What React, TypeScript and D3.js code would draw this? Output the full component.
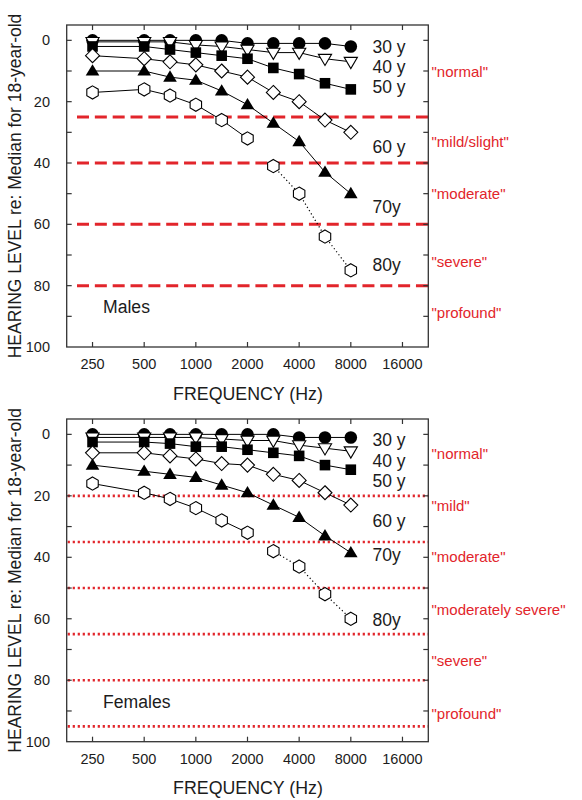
import React from "react";
import * as d3 from "d3";

const freqs = [250, 500, 750, 1000, 1500, 2000, 3000, 4000, 6000, 8000];
const xTickFreqs = [250, 500, 1000, 2000, 4000, 8000, 16000];
const yTickValues = [0, 20, 40, 60, 80, 100];
const yMinorTicks = [0, 10, 20, 30, 40, 50, 60, 70, 80, 90];
const ages = ["30 y", "40 y", "50 y", "60 y", "70y", "80y"];

// Males
const m30 = [0, 0, 0, 0, 0, 1, 1, 1, 1, 2];
const m40 = [0.5, 0.5, 0.5, 1.5, 2, 3, 4, 4, 6, 7];
const m50 = [2, 2, 3, 4, 5, 6, 9, 11, 14, 16];
const m60 = [5, 6, 7, 8, 10, 12, 17, 20, 26, 30];
const m70 = [10, 10, 12, 13, 16.5, 21, 27, 33, 43, 50];
const m80 = [17, 16, 18, 21, 26, 32, 41, 50, 64, 75];
const maleBorders = [25, 40, 60, 80];
const maleCategories = ['"normal"', '"mild/slight"', '"moderate"', '"severe"', '"profound"'];
const maleCategoryAt = [10.3, 33, 49.9, 72.2, 88.9];
const maleAgeAt = [2.1, 8.6, 15.1, 34.7, 54.3, 73.3];

// Females
const f30 = [0, 0, 0, 0, 0, 0, 0, 1, 1, 1];
const f40 = [1, 1, 1, 1, 1.5, 2, 2, 3.5, 4.5, 5.5];
const f50 = [2.5, 2.5, 3, 4, 4, 5, 6, 7, 10, 11.5];
const f60 = [6, 6, 7, 8, 9.5, 10, 13, 15, 19, 23];
const f70 = [10, 12, 13, 14, 16.5, 19, 23, 27, 33, 38.5];
const f80 = [16, 19, 21, 24, 28, 32, 38, 43, 52, 60];
const femaleBorders = [20, 35, 50, 65, 80, 95];
const femaleCategories = ['"normal"', '"mild"', '"moderate"', '"moderately severe"', '"severe"', '"profound"'];
const femaleCategoryAt = [6.2, 23.3, 39.8, 57.1, 73.6, 90.8];
const femaleAgeAt = [1.8, 8.7, 15.2, 28.2, 39.2, 60.4];

// index from which the 80y curve is drawn dotted (not joined to previous point)
const dottedFrom = 6;

const RED = "#e2252b";
const INK = "#1c1c1c";
const FONT = "'Liberation Sans', Arial, Helvetica, sans-serif";

const xScale = d3
  .scaleLog()
  .domain([125 * Math.SQRT2, 16000 * Math.SQRT2])
  .range([66.7, 428.3]);

// audiogram convention: intermediate frequencies sit at half-octave positions
const xPos = (f: number) => xScale(250 * 2 ** (Math.round(2 * Math.log2(f / 250)) / 2));

type MarkerKind = "circle" | "tridown" | "square" | "diamond" | "triup" | "hexagon";
const markerKinds: MarkerKind[] = ["circle", "tridown", "square", "diamond", "triup", "hexagon"];

function Marker({ kind, x, y }: { kind: MarkerKind; x: number; y: number }) {
  const sw = 1.1;
  switch (kind) {
    case "circle":
      return <circle cx={x} cy={y} r={6.3} fill="#000" />;
    case "square":
      return <rect x={x - 5.3} y={y - 5.3} width={10.6} height={10.6} fill="#000" />;
    case "tridown":
      return (
        <path
          d={`M${x - 6.6},${y - 4.4}L${x + 6.6},${y - 4.4}L${x},${y + 6.8}Z`}
          fill="#fff"
          stroke="#000"
          strokeWidth={sw}
        />
      );
    case "triup":
      return <path d={`M${x},${y - 6.8}L${x + 6.8},${y + 4.6}L${x - 6.8},${y + 4.6}Z`} fill="#000" />;
    case "diamond":
      return (
        <path
          d={`M${x},${y - 7}L${x + 7},${y}L${x},${y + 7}L${x - 7},${y}Z`}
          fill="#fff"
          stroke="#000"
          strokeWidth={sw}
        />
      );
    case "hexagon": {
      const r = 6.6;
      const pts = d3.range(6).map((k) => {
        const a = ((-90 + 60 * k) * Math.PI) / 180;
        return [x + r * Math.cos(a), y + r * Math.sin(a)];
      });
      return (
        <path d={"M" + pts.map((p) => p.join(",")).join("L") + "Z"} fill="#fff" stroke="#000" strokeWidth={sw} />
      );
    }
  }
}

function Panel({
  top,
  bottom,
  series,
  borders,
  borderStyle,
  categories,
  categoryAt,
  ageAt,
  sexLabel,
}: {
  top: number;
  bottom: number;
  series: number[][];
  borders: number[];
  borderStyle: "dashed" | "dotted";
  categories: string[];
  categoryAt: number[];
  ageAt: number[];
  sexLabel: string;
}) {
  const y = d3.scaleLinear().domain([-5, 100]).range([top, bottom]);
  const [x0, x1] = xScale.range();
  const line = d3
    .line<[number, number]>()
    .x((d) => xPos(d[0]))
    .y((d) => y(d[1]));
  const tick = 5;
  const midY = (top + bottom) / 2;

  return (
    <g>
      {/* category boundary lines */}
      {borders.map((b, i) =>
        borderStyle === "dashed" ? (
          <line
            key={i}
            x1={77}
            x2={x1}
            y1={y(b)}
            y2={y(b)}
            stroke={RED}
            strokeWidth={3}
            strokeDasharray="12 5.84"
          />
        ) : (
          <line
            key={i}
            x1={x0 + 1}
            x2={x1}
            y1={y(b)}
            y2={y(b)}
            stroke={RED}
            strokeWidth={2.6}
            strokeDasharray="2.2 2.8"
          />
        )
      )}

      {/* frame */}
      <rect x={x0} y={top} width={x1 - x0} height={bottom - top} fill="none" stroke="#333" strokeWidth={1.3} />

      {/* x ticks (inward, top and bottom) */}
      {xTickFreqs.map((f) => (
        <g key={f}>
          <line x1={xScale(f)} x2={xScale(f)} y1={bottom} y2={bottom - tick} stroke="#333" strokeWidth={1.2} />
          <line x1={xScale(f)} x2={xScale(f)} y1={top} y2={top + tick} stroke="#333" strokeWidth={1.2} />
          <text
            x={xScale(f)}
            y={bottom + 17}
            dy="0.35em"
            textAnchor="middle"
            fontSize={14.5}
            fontFamily={FONT}
            fill={INK}
          >
            {f}
          </text>
        </g>
      ))}

      {/* y ticks (inward, left and right) */}
      {yMinorTicks.map((v) => (
        <g key={v}>
          <line x1={x0} x2={x0 + tick} y1={y(v)} y2={y(v)} stroke="#333" strokeWidth={1.2} />
          <line x1={x1} x2={x1 - tick} y1={y(v)} y2={y(v)} stroke="#333" strokeWidth={1.2} />
        </g>
      ))}
      {yTickValues.map((v) => (
        <text
          key={v}
          x={50}
          y={y(v)}
          dy="0.35em"
          textAnchor="end"
          fontSize={14.5}
          fontFamily={FONT}
          fill={INK}
        >
          {v}
        </text>
      ))}

      {/* axis titles */}
      <text
        x={248}
        y={bottom + 46.5}
        dy="0.35em"
        textAnchor="middle"
        fontSize={17.8}
        fontFamily={FONT}
        fill={INK}
      >
        FREQUENCY (Hz)
      </text>
      <text
        transform={`translate(20.5,${midY}) rotate(-90)`}
        textAnchor="middle"
        fontSize={17.5}
        fontFamily={FONT}
        fill={INK}
      >
        HEARING LEVEL re: Median for 18-year-old
      </text>

      {/* series lines */}
      {series.map((vals, si) => {
        const pts = freqs.map((f, i) => [f, vals[i]] as [number, number]);
        if (si === series.length - 1) {
          return (
            <g key={si}>
              <path d={line(pts.slice(0, dottedFrom)) || ""} fill="none" stroke="#000" strokeWidth={1} />
              <path
                d={line(pts.slice(dottedFrom)) || ""}
                fill="none"
                stroke="#000"
                strokeWidth={1.2}
                strokeDasharray="1.2 2.6"
              />
            </g>
          );
        }
        return <path key={si} d={line(pts) || ""} fill="none" stroke="#000" strokeWidth={1} />;
      })}

      {/* markers */}
      {series.map((vals, si) =>
        freqs.map((f, i) => <Marker key={si + "-" + i} kind={markerKinds[si]} x={xPos(f)} y={y(vals[i])} />)
      )}

      {/* age labels */}
      {ages.map((a, i) => (
        <text
          key={a}
          x={372.5}
          y={y(ageAt[i])}
          dy="0.35em"
          fontSize={17.5}
          fontFamily={FONT}
          fill={INK}
        >
          {a}
        </text>
      ))}

      {/* category labels */}
      {categories.map((c, i) => (
        <text
          key={c}
          x={431.5}
          y={y(categoryAt[i])}
          dy="0.35em"
          fontSize={15}
          fontFamily={FONT}
          fill={RED}
        >
          {c}
        </text>
      ))}

      <text x={103} y={bottom - 40} dy="0.35em" fontSize={17.6} fontFamily={FONT} fill={INK}>
        {sexLabel}
      </text>
    </g>
  );
}

export default function App() {
  return (
    <svg
      width={582}
      height={800}
      viewBox="0 0 582 800"
      style={{ position: "absolute", left: 0, top: 0, background: "#fff" }}
    >
      <rect width={582} height={800} fill="#fff" />
      <Panel
        top={25}
        bottom={347}
        series={[m30, m40, m50, m60, m70, m80]}
        borders={maleBorders}
        borderStyle="dashed"
        categories={maleCategories}
        categoryAt={maleCategoryAt}
        ageAt={maleAgeAt}
        sexLabel="Males"
      />
      <Panel
        top={419}
        bottom={741.7}
        series={[f30, f40, f50, f60, f70, f80]}
        borders={femaleBorders}
        borderStyle="dotted"
        categories={femaleCategories}
        categoryAt={femaleCategoryAt}
        ageAt={femaleAgeAt}
        sexLabel="Females"
      />
    </svg>
  );
}
